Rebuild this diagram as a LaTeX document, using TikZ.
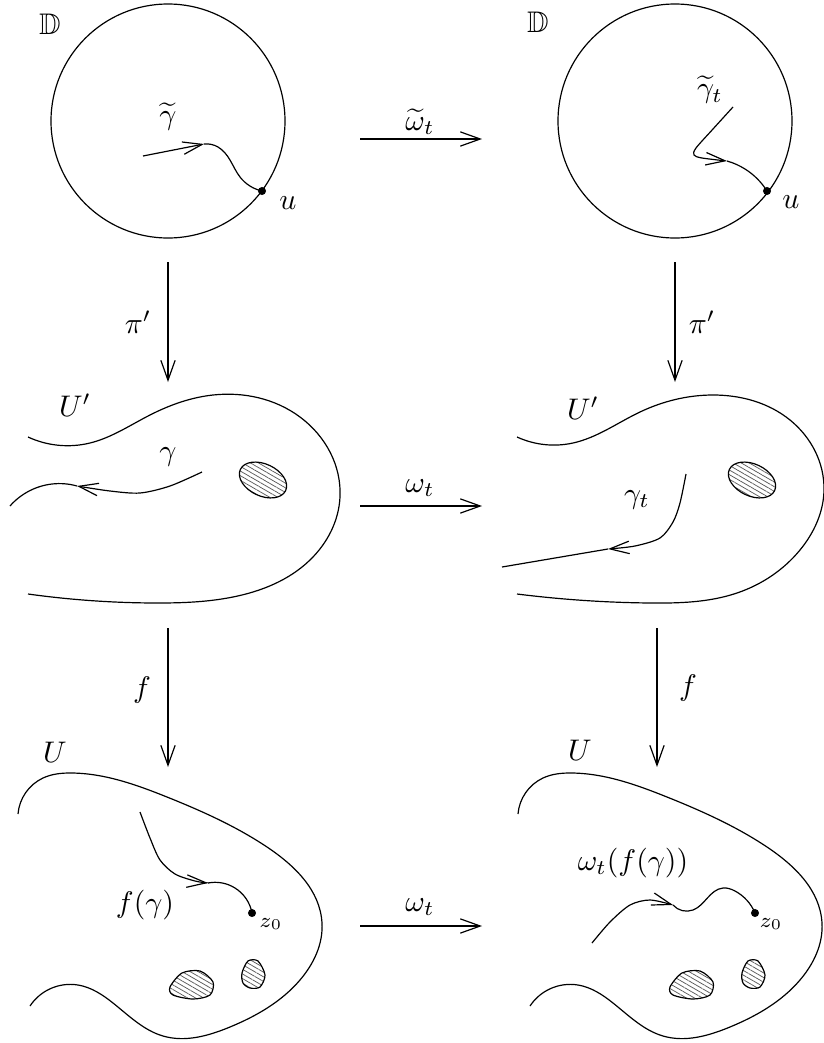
\documentclass[tikz,border=0pt]{standalone}
\usepackage{amssymb}
\usetikzlibrary{arrows.meta,patterns.meta,positioning,hobby}
\tikzset{
  maparrow/.style={-{Straight Barb[length=6.7pt,width=4.8pt]}},
  patharrow/.style={-{Straight Barb[length=6.5pt,width=4.2pt]}},
  zdot/.style={circle,fill,inner sep=0pt,minimum size=2.7pt},
  hole/.style={pattern={Lines[angle=-30,distance=1.35pt,line width=0.25pt]},pattern color=black!65},
}
\begin{document}
\begin{tikzpicture}[x=0.0118cm,y=-0.0118cm]
  \useasboundingbox (0,0) rectangle (823,1043);

  % disks
  \draw (168,121) circle (117);
  \draw (675,121) circle (117);
  \node (disk1) at (50,24) {$\mathbb{D}$};
  \node (disk2) at (538,22) {$\mathbb{D}$};

  \node[zdot] (u1) at (262,191) {};
  \node[zdot] (u2) at (767,191) {};
  \node (ulab1) at (288,203) {$u$};
  \node (ulab2) at (791,202) {$u$};
  \node (gt1) at (168,117) {$\widetilde{\gamma}$};
  \node (gt2) at (710,90) {$\widetilde{\gamma}_t$};

  \draw[patharrow] (143,156) -- (204,144);
  \draw[use Hobby shortcut] (204,144) .. (218,147) .. (230,160) .. (240,177) .. (u1.center);
  \draw[patharrow] plot[smooth] coordinates {(733,107) (713,129) (696,148) (694,155) (702,158) (727,161)};
  \draw[use Hobby shortcut] (727,161) .. (745,169) .. (u2.center);

  % middle row
  \draw[use Hobby shortcut] (28,437) .. (90,443) .. (150,415) .. (213,395) .. (300,417)
    .. (340,497) .. (310,560) .. (233,597) .. (157,603) .. (28,594);
  \draw[use Hobby shortcut] (517,437) .. (573,443) .. (640,412) .. (713,395) .. (790,420)
    .. (824,490) .. (800,550) .. (737,593) .. (650,603) .. (517,594);
  \draw[hole, rotate around={-25:(263,480)}] (263,480) ellipse [x radius=25, y radius=16];
  \draw[hole, rotate around={-25:(752,480)}] (752,480) ellipse [x radius=25, y radius=16];
  \node (U1) at (75,405) {$U'$};
  \node (U2) at (583,408) {$U'$};
  \node (g1) at (168,457) {$\gamma$};
  \node (g2) at (637,500) {$\gamma_t$};

  \draw[patharrow] plot[smooth] coordinates {(202,472) (170,486) (140,493) (110,491) (77,486)};
  \draw[use Hobby shortcut] (77,486) .. (52,484) .. (10,506);
  \draw[patharrow] plot[smooth] coordinates {(686,474) (680,503) (673,522) (660,538) (635,546) (608,549)};
  \draw (608,549) -- (502,567);

  % bottom row
  \foreach \dx in {0,500} {
    \draw[use Hobby shortcut, shift={(\dx,0)}] (18,814) .. (43,778) .. (72,773) .. (167,797)
      .. (267,847) .. (322,923) .. (300,980) .. (230,1027) .. (163,1036) .. (113,1003)
      .. (78,985) .. (30,1006);
    \draw[hole, shift={(\dx,0)}] plot[smooth cycle] coordinates {(170,987) (182,973) (200,971)
      (213,982) (210,995) (193,999) (173,995)};
    \draw[hole, shift={(\dx,0)}] plot[smooth cycle] coordinates {(242,973) (248,961) (258,961)
      (265,975) (260,987) (250,988) (243,983)};
  }
  \node (V1) at (55,752) {$U$};
  \node (V2) at (580,750) {$U$};
  \node[zdot] (z1) at (252,913) {};
  \node[zdot] (z2) at (755,913) {};
  \node (zlab1) at (271,924) {$\scriptstyle z_0$};
  \node (zlab2) at (771,924) {$\scriptstyle z_0$};
  \node (fg1) at (145,905) {$f(\gamma)$};
  \node (fg2) at (633,863) {$\omega_t(f(\gamma))$};

  \draw[patharrow] plot[smooth] coordinates {(140,812) (150,838) (160,860) (175,874) (195,881) (208,883)};
  \draw[use Hobby shortcut] (208,883) .. (235,888) .. (z1.center);
  \draw[patharrow] plot[smooth] coordinates {(592,943) (610,922) (630,905) (650,900) (673,905)};
  \draw[use Hobby shortcut] (673,905) .. (693,910) .. (723,888) .. (735,891) .. (z2.center);

  % maps between the pictures
  \coordinate (a1) at (360,139);  \coordinate (b1) at (482,139);
  \coordinate (a2) at (360,506);  \coordinate (b2) at (482,506);
  \coordinate (a3) at (360,926);  \coordinate (b3) at (482,926);
  \coordinate (p1) at (168,262);  \coordinate (q1) at (168,382);
  \coordinate (p2) at (675,262);  \coordinate (q2) at (675,382);
  \coordinate (p3) at (168,628);  \coordinate (q3) at (168,767);
  \coordinate (p4) at (657,628);  \coordinate (q4) at (657,767);
  \draw[maparrow] (a1) -- (b1);
  \draw[maparrow] (a2) -- (b2);
  \draw[maparrow] (a3) -- (b3);
  \draw[maparrow] (p1) -- (q1);
  \draw[maparrow] (p2) -- (q2);
  \draw[maparrow] (p3) -- (q3);
  \draw[maparrow] (p4) -- (q4);
  \node (wt1) at (420,122) {$\widetilde{\omega}_t$};
  \node (wt2) at (420,488) {$\omega_t$};
  \node (wt3) at (420,907) {$\omega_t$};
  \node (pi1) at (138,322) {$\pi'$};
  \node (pi2) at (702,322) {$\pi'$};
  \node (f1) at (142,690) {$f$};
  \node (f2) at (688,688) {$f$};
\end{tikzpicture}
\end{document}
